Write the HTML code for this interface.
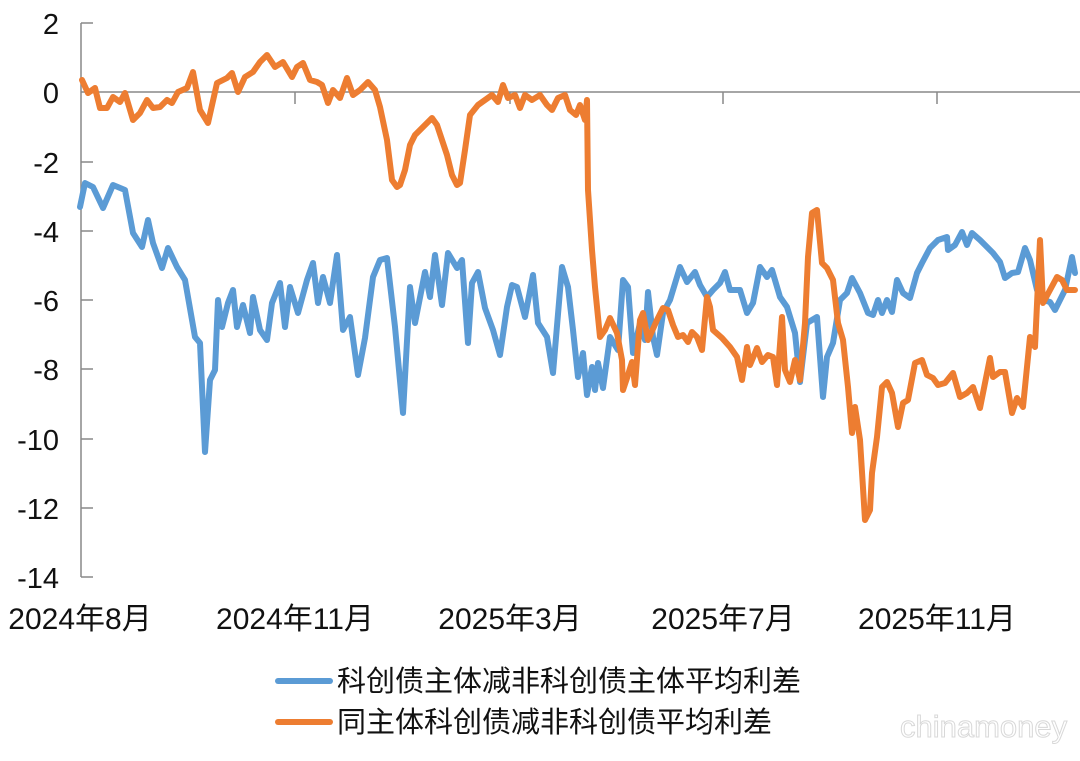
<!DOCTYPE html>
<html><head><meta charset="utf-8"><style>
body{margin:0;background:#fff;width:1080px;height:756px;overflow:hidden}
text{font-family:"Liberation Sans","Noto Sans CJK SC",sans-serif}
</style></head><body>
<svg width="1080" height="756" viewBox="0 0 1080 756">
<g stroke="#888" stroke-width="1.5" fill="none">
<line x1="81" y1="23" x2="81" y2="577"/>
<line x1="81" y1="92" x2="1080" y2="92"/>
<line x1="81" y1="23" x2="93" y2="23"/>
<line x1="81" y1="162" x2="93" y2="162"/>
<line x1="81" y1="231" x2="93" y2="231"/>
<line x1="81" y1="300" x2="93" y2="300"/>
<line x1="81" y1="369" x2="93" y2="369"/>
<line x1="81" y1="439" x2="93" y2="439"/>
<line x1="81" y1="508" x2="93" y2="508"/>
<line x1="81" y1="577" x2="93" y2="577"/>
<line x1="295" y1="92" x2="295" y2="104"/>
<line x1="510" y1="92" x2="510" y2="104"/>
<line x1="723" y1="92" x2="723" y2="104"/>
<line x1="937" y1="92" x2="937" y2="104"/>
</g>
<g font-size="29" fill="#111" text-anchor="end">
<text x="59" y="34">2</text><text x="59" y="103">0</text><text x="59" y="173">-2</text>
<text x="59" y="242">-4</text><text x="59" y="311">-6</text><text x="59" y="380">-8</text>
<text x="59" y="450">-10</text><text x="59" y="519">-12</text><text x="59" y="588">-14</text>
</g>
<g font-size="30" fill="#111" text-anchor="middle">
<text x="80" y="629">2024年8月</text><text x="295" y="629">2024年11月</text>
<text x="510" y="629">2025年3月</text><text x="723" y="629">2025年7月</text>
<text x="937" y="629">2025年11月</text>
</g>
<g fill="none" stroke-width="6" stroke-linejoin="round" stroke-linecap="round">
<polyline stroke="#5b9bd5" points="80,207 85,183 93,187 103,208 113,185 125,190 133,233 142,247 148,220 153,243 162,268 168,248 177,267 185,280 195,337 200,343 205,452 210,380 215,370 218,300 222,327 228,303 233,290 237,327 243,305 250,333 253,297 260,330 267,340 272,303 280,283 285,327 290,287 298,313 307,280 313,263 318,303 323,277 330,303 337,255 343,330 350,317 358,375 365,338 373,277 380,260 387,258 395,327 403,413 410,287 415,323 425,272 430,297 435,255 442,305 448,253 457,268 462,260 468,343 472,283 478,272 485,308 493,330 500,355 507,307 512,285 517,287 525,317 533,275 538,323 547,337 553,373 562,267 568,287 573,330 578,377 583,353 587,395 592,367 595,390 598,363 603,388 610,337 618,350 623,280 628,287 633,353 640,323 645,340 648,292 653,337 657,355 663,313 670,300 680,267 687,282 695,272 700,285 707,297 713,290 720,283 725,272 730,290 740,290 747,313 753,303 760,267 767,277 772,270 780,297 787,307 795,333 800,382 807,323 817,317 823,397 827,357 833,343 840,300 847,293 852,278 860,293 868,313 873,315 878,300 882,313 887,300 892,312 897,280 903,293 910,298 917,273 922,263 930,248 938,240 947,237 948,250 955,245 962,232 967,245 972,233 980,240 987,247 993,253 1000,262 1005,278 1012,273 1018,272 1025,248 1030,260 1037,290 1043,300 1050,302 1055,310 1060,300 1065,290 1072,257 1075,273"/>
<polyline stroke="#ed7d31" points="82,80 88,93 95,88 100,108 107,108 113,97 120,102 125,93 133,120 140,113 147,100 153,108 160,107 167,100 172,103 178,92 187,88 193,72 200,110 208,123 217,83 227,78 232,73 238,92 245,77 253,72 260,62 267,55 275,67 283,62 292,77 297,67 303,63 310,80 317,82 322,85 328,103 333,90 340,98 347,78 353,95 360,90 368,82 375,90 380,107 387,140 392,180 397,187 400,185 405,170 410,145 415,135 420,130 425,125 432,118 437,125 442,140 447,155 452,175 457,185 460,183 465,150 470,115 478,105 485,100 492,95 498,102 503,85 508,98 515,95 520,108 525,95 532,100 540,95 547,105 552,110 558,98 565,95 570,110 576,115 580,105 585,120 587,100 588,190 592,250 595,287 600,337 605,330 610,318 617,333 622,360 623,390 627,378 632,362 635,385 640,320 643,313 648,340 657,320 663,308 668,310 673,325 678,337 683,335 688,342 692,332 697,337 702,350 707,297 710,307 713,330 722,338 730,347 737,357 742,380 747,347 750,365 757,348 762,362 768,355 773,357 777,385 782,317 785,370 790,382 795,360 800,380 805,323 808,257 812,213 817,210 822,263 827,268 833,280 838,323 843,340 848,387 852,433 855,407 860,440 865,520 870,510 872,473 877,437 882,387 887,382 892,393 898,427 903,403 908,400 915,363 922,360 927,375 933,378 938,385 945,383 953,373 960,397 967,393 973,387 980,408 990,358 993,377 1000,372 1005,372 1012,413 1017,398 1023,407 1030,337 1035,347 1040,240 1043,303 1050,290 1057,277 1062,280 1067,290 1075,290"/>
<line x1="278" y1="681" x2="330" y2="681" stroke="#5b9bd5"/>
<line x1="278" y1="722" x2="330" y2="722" stroke="#ed7d31"/>
</g>
<g font-size="29" fill="#111">
<text x="337" y="691">科创债主体减非科创债主体平均利差</text>
<text x="337" y="732">同主体科创债减非科创债平均利差</text>
</g>
<text x="900" y="737" font-size="31" fill="#fff" stroke="#d8d8d8" stroke-width="1">chinamoney</text>
</svg>
</body></html>
